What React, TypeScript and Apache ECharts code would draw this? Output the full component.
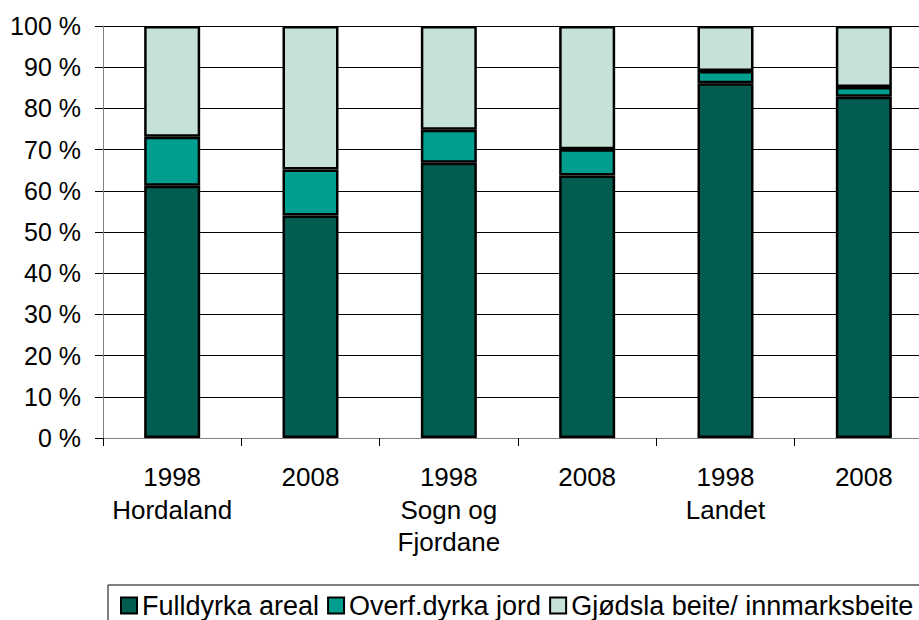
import React, { useEffect, useRef } from "react";
import * as echarts from "echarts";

const categories = ["1998\nHordaland", "2008", "1998\nSogn og\nFjordane", "2008", "1998\nLandet", "2008"];
const fulldyrka = [61.2, 54.0, 66.8, 63.7, 86.1, 82.8];
const overf = [11.9, 11.2, 8.0, 6.4, 3.0, 2.4];
const gjodsla = [26.9, 34.8, 25.2, 29.9, 10.9, 14.8];
const seriesNames = ["Fulldyrka areal", "Overf.dyrka jord", "Gjødsla beite/ innmarksbeite"];
const colors = ["#025C50", "#009E8F", "#C6E2D7"];

const FONT = "'Liberation Sans', Arial, sans-serif";

export default function App() {
  const ref = useRef<HTMLDivElement>(null);
  useEffect(() => {
    document.body.style.margin = "0";
    const chart = echarts.init(ref.current!, null, { renderer: "svg" });
    const mk = (name: string, data: number[], color: string) => ({
      name,
      type: "bar",
      stack: "total",
      data,
      barWidth: 56,
      itemStyle: {
        color,
        borderColor: "#000",
        borderWidth: 2.5,
      },
    });
    chart.setOption({
      animation: false,
      textStyle: { fontFamily: FONT },
      grid: { left: 103, right: 7, top: 26, bottom: 182, containLabel: false },
      legend: {
        left: 108,
        top: 585,
        orient: "horizontal",
        icon: "rect",
        itemWidth: 16,
        itemHeight: 16,
        itemGap: 8,
        borderColor: "#000",
        borderWidth: 1,
        borderRadius: 0,
        padding: [7, 10, 7, 12],
        textStyle: { fontSize: 27, color: "#000", fontFamily: FONT },
        data: seriesNames,
      },
      xAxis: {
        type: "category",
        data: categories,
        axisLine: { show: true, lineStyle: { color: "#808080", width: 1 } },
        axisTick: { show: true, length: 8, alignWithLabel: false, interval: 0, lineStyle: { color: "#000" } },
        axisLabel: { interval: 0, fontSize: 26, lineHeight: 32.5, color: "#000", margin: 23, fontFamily: FONT },
      },
      yAxis: {
        type: "value",
        min: 0,
        max: 100,
        interval: 10,
        axisLine: { show: true, lineStyle: { color: "#808080", width: 1 } },
        axisTick: { show: true, length: 8, lineStyle: { color: "#000" } },
        axisLabel: { formatter: "{value} %", fontSize: 25, color: "#000", margin: 22, fontFamily: FONT },
        splitLine: { show: true, lineStyle: { color: "#000", width: 1 } },
      },
      series: [
        mk(seriesNames[0], fulldyrka, colors[0]),
        mk(seriesNames[1], overf, colors[1]),
        mk(seriesNames[2], gjodsla, colors[2]),
      ],
    });
    return () => chart.dispose();
  }, []);
  return (
    <div style={{ width: 919, height: 620, overflow: "hidden", position: "relative" }}>
      <div ref={ref} style={{ width: 940, height: 620 }} />
    </div>
  );
}
